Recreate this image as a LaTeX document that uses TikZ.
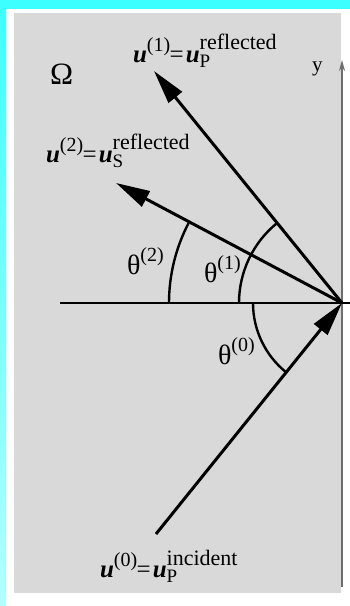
\documentclass[tikz,border=0pt]{standalone}
\usepackage{fontspec}
\setmainfont{Liberation Serif}
\usetikzlibrary{arrows.meta,calc}
\definecolor{boxgray}{RGB}{217,217,217}
\definecolor{cyantop}{RGB}{60,255,255}
\definecolor{cyanbot}{RGB}{178,255,255}
\definecolor{axisgray}{RGB}{110,110,110}
\newcommand{\ubold}{\textbf{\textit{u}}}
\newcommand{\fs}[1]{\fontsize{#1}{#1}\selectfont}
\newcommand{\wavelab}[3]{\fs{25}\ubold\raisebox{11pt}{\fs{20}(#1)}\hspace{-0.5pt}=\hspace{2pt}\ubold\rlap{\raisebox{-5pt}{\fs{19}#2}}\raisebox{13pt}{\fs{22}#3}}
\newcommand{\anglab}[1]{\fs{28}θ\raisebox{13pt}{\fs{20}(#1)}}
\begin{document}
\begin{tikzpicture}[x=1pt,y=1pt,
  wave/.style={line width=3pt,-{Triangle[length=34pt,width=17pt]}},
  anglearc/.style={line width=2.4pt},
  lab/.style={anchor=base west,inner sep=0pt,outer sep=0pt}]
\useasboundingbox (0,0) rectangle (350,606);
% background
\fill[white] (0,0) rectangle (350,606);
\fill[cyantop] (0,597) rectangle (350,606);
\shade[top color=cyantop,bottom color=cyanbot] (0,0) rectangle (6,606);
\fill[boxgray] (14,13) rectangle (341,593);
% axes
\coordinate (O) at (342,303);
\coordinate (ybot) at (342,19);
\coordinate (ytop) at (342,546);
\coordinate (hl) at (60,303);
\coordinate (hr) at (350,303);
\draw[axisgray,line width=1.8pt,-{Stealth[length=11pt,width=6pt]}] (ybot) -- (ytop);
\draw[line width=1.2pt] (hl) -- (hr);
% wave directions
\coordinate (A) at (156,72);
\coordinate (P) at (154,535);
\coordinate (S) at (116,423);
% arcs
\draw[anglearc] ($(O)+(180:173)$) arc[start angle=180,end angle=152.5,radius=173];
\draw[anglearc] ($(O)+(180:103)$) arc[start angle=180,end angle=129,radius=103];
\draw[anglearc] ($(O)+(180:89)$) arc[start angle=180,end angle=231.2,radius=89];
\draw[wave] (A) -- (O);
\draw[wave] (O) -- (P);
\draw[wave] (O) -- (S);
% labels
\node[lab] (omega) at (50,521) {\fs{31}Ω};
\node[lab] (ylab) at (312,534) {\fs{21}y};
\node[lab] (u1) at (133,543) {\wavelab{1}{P}{reflected}};
\node[lab] (u2) at (46,443) {\wavelab{2}{S}{reflected}};
\node[lab] (u0) at (100,28) {\wavelab{0}{P}{incident}};
\node[lab] (t2) at (127,331) {\anglab{2}};
\node[lab] (t1) at (204,323) {\anglab{1}};
\node[lab] (t0) at (218,241) {\anglab{0}};
\end{tikzpicture}
\end{document}
